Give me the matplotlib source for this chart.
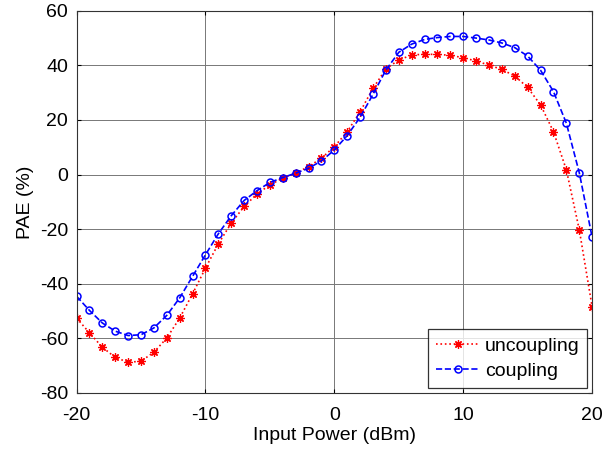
import numpy as np
import matplotlib
matplotlib.use("Agg")
import matplotlib.pyplot as plt

plt.rcParams['font.family'] = ['Liberation Sans', 'DejaVu Sans']
plt.rcParams['axes.unicode_minus'] = False

# input power sweep (dBm)
power = list(range(-20, 21))

# PAE (%)
pae_uncoupling = [-52.6, -58.0, -63.3, -67.0, -68.8, -68.4, -65.1, -59.9, -52.6, -43.7,
                  -34.3, -25.4, -17.8, -11.7, -7.1, -3.8, -1.3, 0.5, 2.9, 6.0,
                  10.2, 15.7, 23.0, 31.6, 38.7, 42.0, 43.8, 44.1, 44.0, 43.7,
                  42.8, 41.6, 40.1, 38.5, 36.1, 31.9, 25.5, 15.7, 1.7, -20.2,
                  -48.5]
pae_coupling = [-44.6, -49.8, -54.4, -57.4, -59.0, -58.7, -56.2, -51.6, -45.2, -37.3,
                -29.4, -21.7, -15.1, -9.5, -5.9, -2.9, -1.1, 0.5, 2.3, 5.0,
                9.0, 14.3, 21.0, 29.4, 38.3, 44.8, 47.8, 49.5, 50.2, 50.6,
                50.6, 50.0, 49.3, 48.2, 46.5, 43.4, 38.2, 30.4, 18.8, 0.7,
                -23.0]

xticks = [-20, -10, 0, 10, 20]
yticks = [-80, -60, -40, -20, 0, 20, 40, 60]

fig = plt.figure(figsize=(6.03, 4.5), dpi=100)
ax = fig.add_axes([0.127, 0.127, 0.855, 0.849])

ax.plot(power, pae_uncoupling, color='red', linestyle=':', linewidth=1.2,
        marker=(8, 2, 0), markersize=6, markeredgewidth=0.9, label='uncoupling')
ax.plot(power, pae_coupling, color='blue', linestyle='--', linewidth=1.2,
        marker='o', markersize=5, markerfacecolor='none', markeredgewidth=1.1,
        label='coupling')

ax.set_xlim(-20, 20)
ax.set_ylim(-80, 60)
ax.set_xticks(xticks)
ax.set_yticks(yticks)
ax.grid(True, color='#777777', linewidth=0.7)
ax.tick_params(direction='in', length=3, top=True, right=True, labelsize=14, pad=6)
ax.tick_params(axis='x', pad=10)
for s in ax.spines.values():
    s.set_linewidth(0.8)
    s.set_color('#333333')

ax.set_xlabel('Input Power (dBm)', fontsize=14, labelpad=2)
ax.set_ylabel('PAE (%)', fontsize=14, labelpad=4)

leg = ax.legend(loc='lower right', fontsize=14, handlelength=2.2, handletextpad=0.3,
                borderpad=0.4, labelspacing=0.4, borderaxespad=0.25, fancybox=False)
leg.get_frame().set_edgecolor('black')
leg.get_frame().set_linewidth(0.9)

fig.savefig('out.png', dpi=100)
